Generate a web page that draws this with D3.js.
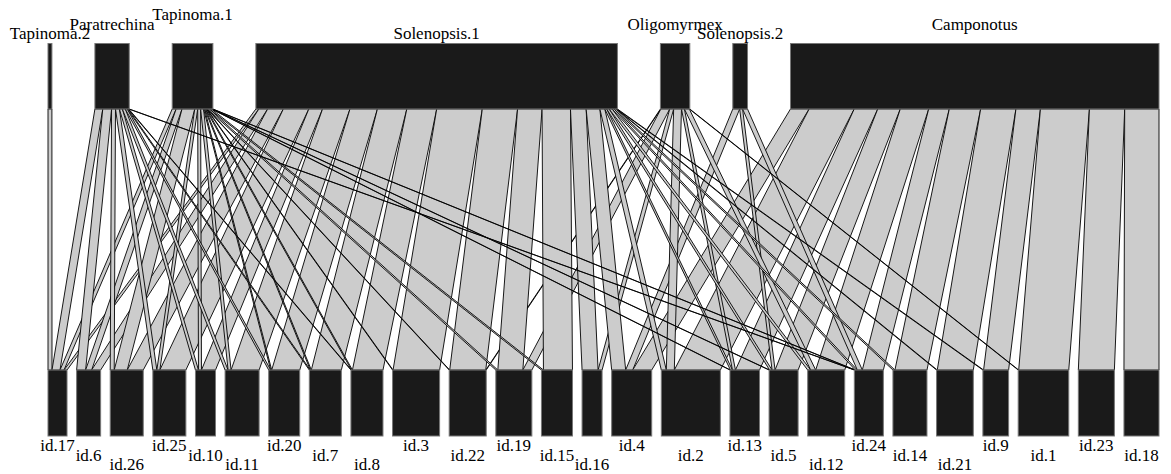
<!DOCTYPE html>
<html>
<head>
<meta charset="utf-8">
<script src="https://cdn.jsdelivr.net/npm/d3@7"></script>
<style>
  html, body { margin: 0; padding: 0; background: #fff; }
  svg { display: block; }
  text { font-family: "Liberation Serif", "Times New Roman", Tinos, "DejaVu Serif", "Noto Serif", serif; font-size: 17px; }
</style>
</head>
<body>
<script>
// ---- data: higher level (ant genera) and lower level (ids) ----
var higher = ["Tapinoma.2", "Paratrechina", "Tapinoma.1", "Solenopsis.1", "Oligomyrmex", "Solenopsis.2", "Camponotus"];
var lower = ["id.17", "id.6", "id.26", "id.25", "id.10", "id.11", "id.20", "id.7", "id.8", "id.3",
             "id.22", "id.19", "id.15", "id.16", "id.4", "id.2", "id.13", "id.5", "id.12", "id.24",
             "id.14", "id.21", "id.9", "id.1", "id.23", "id.18"];

// interaction weights, one array per higher taxon, in the order of `lower`
var tapinoma2    = [4, 0, 0, 0, 0, 0, 0, 0, 0, 0, 0, 0, 0, 0, 0, 0, 0, 0, 0, 0, 0, 0, 0, 0, 0, 0];
var paratrechina = [8, 9, 4, 4, 3, 3, 2, 1, 0.5, 0, 0, 0, 0, 0, 0, 0, 0, 0, 0, 0.5, 0, 0, 0, 0, 0, 0];
var tapinoma1    = [4, 6, 13, 3, 3, 3, 1, 1, 1, 0.5, 0.5, 2, 2, 0, 0, 0, 0.5, 0.5, 0, 0.5, 0, 0, 0, 0, 0, 0];
var solenopsis1  = [3, 9, 16, 26, 14, 28, 28, 30, 30.5, 46.5, 36, 25, 29, 16, 14, 5, 2, 2.5, 3, 2, 2, 0.7, 0.7, 0, 0, 0];
var oligomyrmex  = [0, 0, 0, 0, 0, 0, 0, 0, 0, 0, 0.5, 9, 0, 4, 0, 8, 3, 0, 5, 0, 0, 0, 0, 0.5, 0, 0];
var solenopsis2  = [0, 0, 0, 0, 0, 0, 0, 0, 0, 0, 0, 0, 0, 0, 7, 0, 0, 3, 0, 5, 0, 0, 0, 0, 0, 0];
var camponotus   = [0, 0, 0, 0, 0, 0, 0, 0, 0, 0, 0, 0, 0, 0, 19, 46, 24, 23, 29, 21, 32, 36, 25, 50, 36, 35];

var web = [tapinoma2, paratrechina, tapinoma1, solenopsis1, oligomyrmex, solenopsis2, camponotus];

// label rows (stagger) as plotweb placed them
var highTier = [0, 1, 2, 0, 1, 0, 1];
var lowTier = [0, 1, 2, 0, 1, 2, 0, 1, 2, 0, 1, 0, 1, 2, 0, 1, 0, 1, 2, 0, 1, 2, 0, 1, 0, 1];

// ---- layout ----
var W = 1171, H = 474;
var xLeft = 48, xRight = 1159;
var topY0 = 43.5, topY1 = 109, lowY0 = 370, lowY1 = 436;

var svg = d3.select("body").append("svg")
  .attr("width", W).attr("height", H);

var highTot = web.map(function(r){ return d3.sum(r); });
var lowTot = lower.map(function(_, j){ return d3.sum(web, function(r){ return r[j]; }); });
var grand = d3.sum(highTot);

// gaps in value units so both rows fill the same width
function levelPos(tots, gap) {
  var pos = [], acc = 0;
  tots.forEach(function(t){ pos.push(acc); acc += t + gap; });
  var x = d3.scaleLinear().domain([0, acc - gap]).range([xLeft, xRight]);
  return { x: x, start: pos };
}
var hi = levelPos(highTot, grand * 0.0504);
var lo = levelPos(lowTot, grand * 0.011);

// links: position inside a higher box follows lower order, inside a lower box follows higher order
var links = [];
var hiStart = [], loStart = [];
web.forEach(function(r, i){
  hiStart[i] = [];
  var a = hi.start[i];
  r.forEach(function(v, j){ hiStart[i][j] = a; a += v; });
});
lower.forEach(function(_, j){
  loStart[j] = [];
  var a = lo.start[j];
  web.forEach(function(r, i){ loStart[j][i] = a; a += r[j]; });
});
lower.forEach(function(_, j){
  web.forEach(function(r, i){
    if (r[j] > 0) links.push({ i: i, j: j, v: r[j] });
  });
});

svg.append("g").selectAll("polygon")
  .data(links)
  .enter().append("polygon")
  .attr("points", function(d){
    var t0 = hi.x(hiStart[d.i][d.j]), t1 = hi.x(hiStart[d.i][d.j] + d.v);
    var b0 = lo.x(loStart[d.j][d.i]), b1 = lo.x(loStart[d.j][d.i] + d.v);
    return [[t0, topY1], [t1, topY1], [b1, lowY0], [b0, lowY0]].join(" ");
  })
  .style("fill", "#cccccc")
  .style("stroke", "#000")
  .style("stroke-width", 0.9);

// boxes
svg.append("g").selectAll("rect")
  .data(higher)
  .enter().append("rect")
  .attr("x", function(d, i){ return hi.x(hi.start[i]); })
  .attr("width", function(d, i){ return hi.x(hi.start[i] + highTot[i]) - hi.x(hi.start[i]); })
  .attr("y", topY0).attr("height", topY1 - topY0)
  .style("fill", "#1a1a1a").style("stroke", "#777").style("stroke-width", 1);

svg.append("g").selectAll("rect")
  .data(lower)
  .enter().append("rect")
  .attr("x", function(d, j){ return lo.x(lo.start[j]); })
  .attr("width", function(d, j){ return lo.x(lo.start[j] + lowTot[j]) - lo.x(lo.start[j]); })
  .attr("y", lowY0).attr("height", lowY1 - lowY0)
  .style("fill", "#1a1a1a").style("stroke", "#777").style("stroke-width", 1);

// labels
svg.append("g").selectAll("text")
  .data(higher)
  .enter().append("text")
  .attr("x", function(d, i){ return hi.x(hi.start[i] + highTot[i] / 2); })
  .attr("y", function(d, i){ return 39 - highTier[i] * 9.5; })
  .attr("text-anchor", "middle")
  .text(function(d){ return d; });

svg.append("g").selectAll("text")
  .data(lower)
  .enter().append("text")
  .attr("x", function(d, j){ return lo.x(lo.start[j] + lowTot[j] / 2); })
  .attr("y", function(d, j){ return 451 + lowTier[j] * 9.5; })
  .attr("text-anchor", "middle")
  .text(function(d){ return d; });
</script>
</body>
</html>
